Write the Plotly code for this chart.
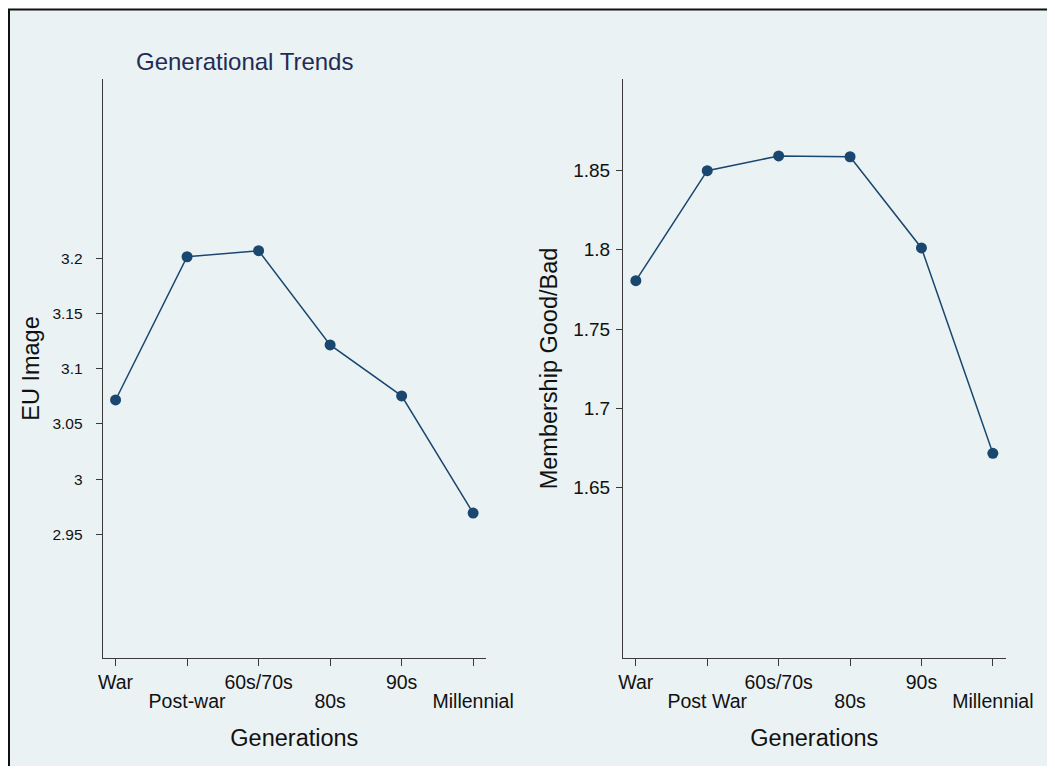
import plotly.graph_objects as go

# ---- data ----
generations_left = ["War", "Post-war", "60s/70s", "80s", "90s", "Millennial"]
generations_right = ["War", "Post War", "60s/70s", "80s", "90s", "Millennial"]
positions = [1, 2, 3, 4, 5, 6]
eu_image = [3.0717, 3.2014, 3.2069, 3.1215, 3.0754, 2.9693]
membership = [1.7805, 1.8500, 1.8593, 1.8588, 1.8012, 1.6715]
left_ticks = [2.95, 3.0, 3.05, 3.1, 3.15, 3.2]
left_ticklabels = ["2.95", "3", "3.05", "3.1", "3.15", "3.2"]
right_ticks = [1.65, 1.7, 1.75, 1.8, 1.85]
right_ticklabels = ["1.65", "1.7", "1.75", "1.8", "1.85"]
title_text = "Generational Trends"
left_ytitle = "EU Image"
right_ytitle = "Membership Good/Bad"
xtitle = "Generations"

# page body has an 8px margin; figure sized to fit the window without overflow
OFF = 8
W, H = 1039, 758
NAVY = "#1A476F"
BG = "#EAF2F3"
AXC = "#3a3a3a"
FONT = "Liberation Sans, Arial, sans-serif"

def px_x(v):
    return (v - OFF) / W

def px_y(v):
    return (H - (v - OFF)) / H

xd_left = [px_x(102.7), px_x(486)]
xd_right = [px_x(623), px_x(1005.7)]
yd = [px_y(658), px_y(79)]
xrange_ = [0.82, 6.18]

fig = go.Figure()
fig.add_trace(go.Scatter(x=positions, y=eu_image, mode="lines+markers",
                         line=dict(color=NAVY, width=1.5),
                         marker=dict(color=NAVY, size=11),
                         xaxis="x", yaxis="y", showlegend=False))
fig.add_trace(go.Scatter(x=positions, y=membership, mode="lines+markers",
                         line=dict(color=NAVY, width=1.5),
                         marker=dict(color=NAVY, size=11),
                         xaxis="x2", yaxis="y2", showlegend=False))
# invisible traces to activate overlay axes that carry the staggered labels
fig.add_trace(go.Scatter(x=[1], y=[None], xaxis="x3", yaxis="y",
                         showlegend=False, hoverinfo="skip"))
fig.add_trace(go.Scatter(x=[1], y=[None], xaxis="x4", yaxis="y2",
                         showlegend=False, hoverinfo="skip"))

def odd_labels(labels):
    return [l if i % 2 == 0 else "" for i, l in enumerate(labels)]

def even_vals(labels):
    return [positions[i] for i in range(len(labels)) if i % 2 == 1]

def even_labels(labels):
    return [labels[i] for i in range(len(labels)) if i % 2 == 1]

xbase = dict(range=xrange_, showgrid=False, zeroline=False, automargin=False,
             tickfont=dict(size=19.5, color="#111", family=FONT),
             fixedrange=True)

main_x = dict(xbase, showline=True, linecolor=AXC, linewidth=1,
              ticks="outside", ticklen=7, tickcolor=AXC, tickwidth=1,
              tickmode="array", tickvals=positions, ticklabelstandoff=0)
over_x = dict(xbase, showline=False, ticks="outside", ticklen=7,
              tickcolor="rgba(0,0,0,0)", tickmode="array",
              ticklabelstandoff=19,
              title=dict(text=xtitle, font=dict(size=23.5, color="#111", family=FONT),
                         standoff=18))

ybase = dict(showline=True, linecolor=AXC, linewidth=1, ticks="outside",
             tickcolor=AXC, tickwidth=1, ticklen=6, showgrid=True,
             gridcolor=BG, gridwidth=1, zeroline=False, tickmode="array",
             automargin=False, fixedrange=True, domain=yd)

fig.update_layout(
    width=W, height=H,
    autosize=False,
    margin=dict(l=0, r=0, t=0, b=0, pad=0),
    paper_bgcolor="white",
    plot_bgcolor="white",
    font=dict(family=FONT, color="#111"),
    title=dict(text=title_text, x=px_x(136), xanchor="left", xref="paper",
               y=px_y(62), yanchor="middle", yref="paper",
               font=dict(size=24, color="#1F2D55", family=FONT)),
    xaxis=dict(main_x, domain=xd_left, anchor="y",
               ticktext=odd_labels(generations_left)),
    xaxis2=dict(main_x, domain=xd_right, anchor="y2",
                ticktext=odd_labels(generations_right)),
    xaxis3=dict(over_x, overlaying="x", anchor="y",
                tickvals=even_vals(generations_left),
                ticktext=even_labels(generations_left)),
    xaxis4=dict(over_x, overlaying="x2", anchor="y2",
                tickvals=even_vals(generations_right),
                ticktext=even_labels(generations_right)),
    yaxis=dict(ybase, anchor="x", range=[2.838, 3.3624],
               tickvals=left_ticks, ticktext=left_ticklabels,
               tickfont=dict(size=15.5, color="#111", family=FONT),
               ticklabelstandoff=10,
               title=dict(text=left_ytitle, font=dict(size=23.5, color="#111", family=FONT),
                          standoff=6)),
    yaxis2=dict(ybase, anchor="x2", range=[1.5422, 1.9079],
                tickvals=right_ticks, ticktext=right_ticklabels,
                tickfont=dict(size=19, color="#111", family=FONT),
                ticklabelstandoff=2,
                title=dict(text=right_ytitle, font=dict(size=23.5, color="#111", family=FONT),
                           standoff=8)),
    shapes=[dict(type="rect", xref="paper", yref="paper",
                 x0=1 / W, x1=1.1, y0=-0.1, y1=1 - 1.5 / H,
                 fillcolor=BG, line=dict(color="#111", width=2), layer="below")],
    showlegend=False,
)

fig.write_html("out.html")
